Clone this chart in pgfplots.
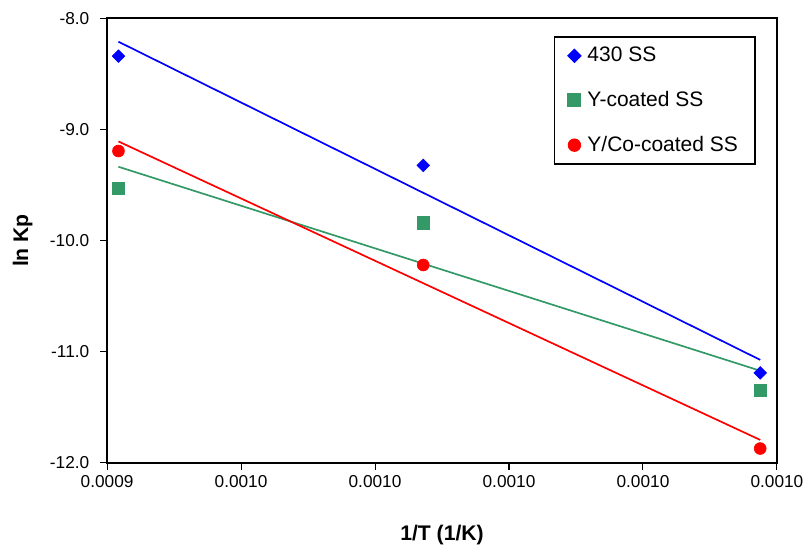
\documentclass[border=0pt]{standalone}
\usepackage{fontspec}
\setmainfont{Liberation Sans}
\usepackage{pgfplots}
\usepackage{pgfplotstable}
\pgfplotsset{compat=1.18}
\definecolor{ssblue}{RGB}{0,0,255}
\definecolor{ssgreen}{RGB}{51,153,102}
\definecolor{ssred}{RGB}{255,0,0}
\pgfplotstableread{
x y
0.0009417 -8.342
0.0009872 -9.324
0.0010375 -11.19
}\tblA
\pgfplotstableread{
x y
0.0009417 -9.53
0.0009872 -9.84
0.0010375 -11.345
}\tblB
\pgfplotstableread{
x y
0.0009417 -9.195
0.0009872 -10.22
0.0010375 -11.87
}\tblC
\begin{document}
\begin{tikzpicture}
\begin{axis}[
  scale only axis,
  width=396pt, height=263pt,
  xmin=0.00094, xmax=0.00104,
  ymin=-12, ymax=-8,
  xtick={0.00094,0.00096,0.00098,0.00100,0.00102,0.00104},
  xticklabels={0.0009,0.0010,0.0010,0.0010,0.0010,0.0010},
  scaled x ticks=false,
  ytick={-12,-11,-10,-9,-8},
  yticklabel style={/tikz/xshift=-3pt, /pgf/number format/.cd,fixed,fixed zerofill,precision=1},
  /pgf/number format/assume math mode=true,
  tick align=outside,
  xtick pos=bottom, ytick pos=left,
  major tick length=4pt,
  tick style={black, line width=0.6pt},
  axis line style={line width=1.1pt},
  ticklabel style={font=\fontsize{10.2}{12}\selectfont},
  xlabel={\textbf{1/T (1/K)}},
  ylabel={\textbf{ln Kp}},
  label style={font=\fontsize{12.5}{14}\selectfont},
  xlabel style={at={(axis description cs:0.5,-0.162)}, anchor=center},
  ylabel style={at={(axis description cs:-0.126,0.5)}, anchor=center},
  legend style={at={(0.667,0.959)}, anchor=north west, draw=black, line width=0.9pt,
    font=\fontsize{12.4}{14}\selectfont, row sep=12pt, inner xsep=8pt, inner ysep=4pt,
    /tikz/every odd column/.style={column sep=2pt},
    /tikz/every even column/.style={column sep=0pt}},
  legend cell align=left,
  legend image code/.code={\path[#1] plot coordinates {(0pt,0pt)};},
]
\addplot[only marks, mark=square*, mark size=2.6pt, mark options={rotate=45}, color=ssblue] table[x=x,y=y]{\tblA};
\addlegendentry{430 SS}
\addplot[only marks, mark=square*, mark size=3.7pt, color=ssgreen] table[x=x,y=y]{\tblB};
\addlegendentry{Y-coated SS}
\addplot[only marks, mark=*, mark size=3.5pt, color=ssred] table[x=x,y=y]{\tblC};
\addlegendentry{Y/Co-coated SS}
\addplot[ssblue, line width=1pt, no marks, forget plot] table[x=x, y={create col/linear regression={y=y}}]{\tblA};
\addplot[ssgreen, line width=1pt, no marks, forget plot] table[x=x, y={create col/linear regression={y=y}}]{\tblB};
\addplot[ssred, line width=1pt, no marks, forget plot] table[x=x, y={create col/linear regression={y=y}}]{\tblC};
\end{axis}
\pgfresetboundingbox
\path ([xshift=-63.3pt,yshift=-49.7pt]current axis.south west) rectangle ([xshift=15.4pt,yshift=10.7pt]current axis.north east);
\end{tikzpicture}
\end{document}
